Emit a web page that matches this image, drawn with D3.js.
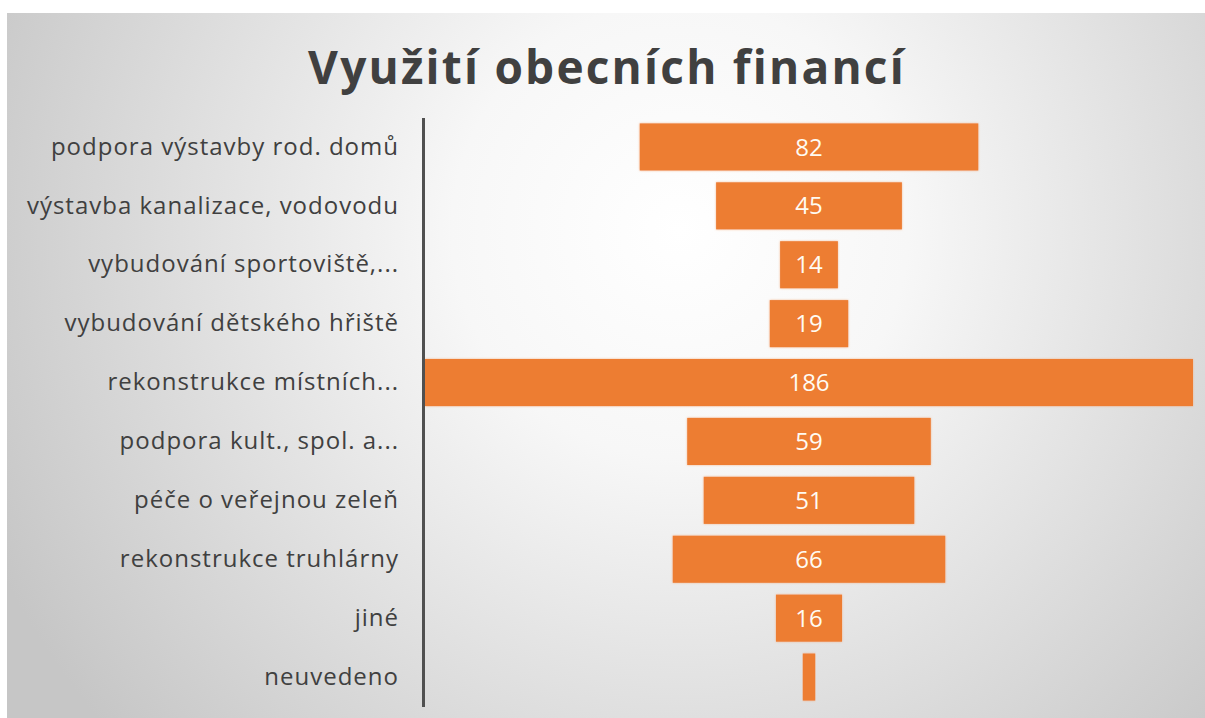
<!DOCTYPE html>
<meta charset="utf-8">
<html>
<head>
  <title>Využití obecních financí</title>
  <script src="https://d3js.org/d3.v7.min.js"></script>
</head>
<style>
  body { margin: 0; background-color: #ffffff; }
  svg { display: block; }
</style>
<body>
</body>
<script>

  // data
  var categories = ["podpora výstavby rod. domů", "výstavba kanalizace, vodovodu",
    "vybudování sportoviště,...", "vybudování dětského hřiště", "rekonstrukce místních...",
    "podpora kult., spol. a...", "péče o veřejnou zeleň", "rekonstrukce truhlárny",
    "jiné", "neuvedeno"];
  var values = [82, 45, 14, 19, 186, 59, 51, 66, 16, 3];
  var showLabel = [true, true, true, true, true, true, true, true, true, false];
  var title = "Využití obecních financí";

  var W = 1205, H = 718;

  var svg = d3.select("body").append("svg")
      .attr("width", W)
      .attr("height", H);

  // background gradient
  var defs = svg.append("defs");
  var grad = defs.append("radialGradient")
      .attr("id", "bg")
      .attr("gradientUnits", "userSpaceOnUse")
      .attr("cx", 680).attr("cy", 230).attr("r", 760);
  grad.append("stop").attr("offset", "0").attr("stop-color", "#ffffff");
  grad.append("stop").attr("offset", "0.3").attr("stop-color", "#f7f7f7");
  grad.append("stop").attr("offset", "1").attr("stop-color", "#c6c6c6");

  var glow = defs.append("filter").attr("id", "glow")
      .attr("x", "-5%").attr("y", "-20%").attr("width", "110%").attr("height", "140%");
  glow.append("feGaussianBlur").attr("in", "SourceAlpha").attr("stdDeviation", 1.2).attr("result", "b");
  glow.append("feFlood").attr("flood-color", "#f4b183").attr("flood-opacity", 0.9);
  glow.append("feComposite").attr("in2", "b").attr("operator", "in").attr("result", "g");
  var merge = glow.append("feMerge");
  merge.append("feMergeNode").attr("in", "g");
  merge.append("feMergeNode").attr("in", "SourceGraphic");

  svg.append("rect")
      .attr("x", 7).attr("y", 13)
      .attr("width", W - 7).attr("height", H - 13)
      .attr("fill", "url(#bg)");

  // title
  svg.append("text")
      .attr("x", 607)
      .attr("y", 84)
      .attr("text-anchor", "middle")
      .attr("font-family", "Open Sans")
      .attr("font-weight", "bold")
      .attr("font-size", 46)
      .attr("letter-spacing", 2.2)
      .attr("fill", "#404040")
      .text(title);

  // scales
  var left = 425, right = 1193;
  var cx = (left + right) / 2;

  var x = d3.scaleLinear()
      .domain([0, d3.max(values)])
      .range([0, right - left]);

  var y = d3.scaleBand()
      .domain(categories)
      .range([117.5, 706.5])
      .paddingInner(0.2)
      .paddingOuter(0.1);

  // bars
  svg.selectAll(".bar")
      .data(values)
      .enter()
        .append("rect")
        .attr("class", "bar")
        .attr("x", function (d) { return cx - x(d) / 2; })
        .attr("y", function (d, i) { return y(categories[i]); })
        .attr("width", function (d) { return x(d); })
        .attr("height", y.bandwidth())
        .attr("fill", "#ed7d31")
        .attr("filter", "url(#glow)");

  // value labels
  svg.selectAll(".val")
      .data(values)
      .enter()
        .append("text")
        .filter(function (d, i) { return showLabel[i]; })
        .attr("class", "val")
        .attr("x", cx)
        .attr("y", function (d, i) { return y(categories[i]) + y.bandwidth() / 2; })
        .attr("dy", "0.36em")
        .attr("text-anchor", "middle")
        .attr("font-family", "Open Sans")
        .attr("font-size", 24)
        .attr("fill", "#fffbf2")
        .text(function (d) { return d; });

  // category axis
  var axis = svg.append("g")
      .attr("transform", "translate(423,0)")
      .call(d3.axisLeft(y).tickSize(0).tickPadding(24));

  axis.select(".domain")
      .attr("stroke", "#505050")
      .attr("stroke-width", 3);

  axis.selectAll("text")
      .attr("font-family", "Open Sans")
      .attr("font-size", 24)
      .attr("letter-spacing", 1)
      .attr("fill", "#404040");

</script>
</html>
